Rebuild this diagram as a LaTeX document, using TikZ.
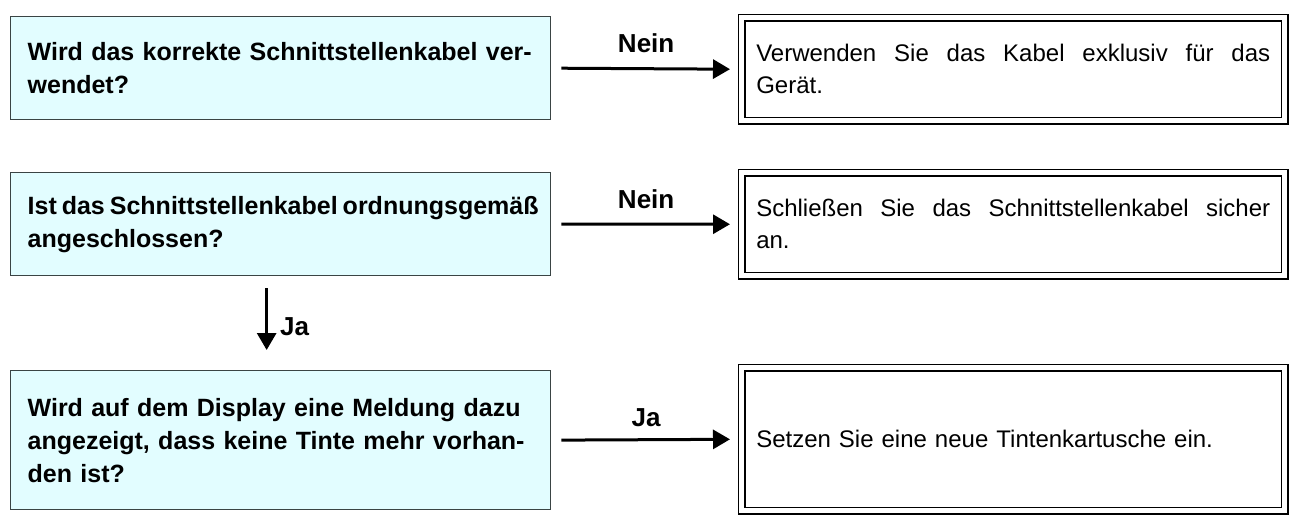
\documentclass[tikz,border=0pt]{standalone}
\usepackage{fontspec}
\setmainfont{Liberation Sans}
\usetikzlibrary{arrows.meta}
\definecolor{qfill}{HTML}{E2FDFF}
\definecolor{qline}{HTML}{3A4444}
\newcommand{\jline}[1]{\hbox to 514pt{#1}}
\newcommand{\tline}[1]{\hbox{\spaceskip=0.2em\relax #1}}
\tikzset{
  qbox/.style={draw=qline, line width=1.3pt, fill=qfill, anchor=north west,
    minimum width=540pt, text width=520pt, align=left, inner sep=0pt,
    font=\fontsize{25}{33}\selectfont\bfseries},
  abox/.style={draw=black, double=white, double distance=5pt, line width=1.5pt,
    anchor=north west, minimum width=543pt, text width=514pt, align=left, inner sep=0pt,
    font=\fontsize{24}{32}\selectfont},
  arr/.style={line width=3pt, -{Triangle[length=17pt,width=19pt]}},
  lbl/.style={font=\fontsize{26}{30}\selectfont\bfseries, inner sep=0pt}
}
\begin{document}
\begin{tikzpicture}[x=1pt,y=-1pt]
\useasboundingbox (0,0) rectangle (1295,515);
\node[qbox, minimum height=103pt] (q1) at (10,16)
  {\hspace*{7pt}Wird das korrekte Schnittstellenkabel ver-\\\hspace*{7pt}wendet?};
\node[qbox, minimum height=103pt] (q2) at (10,172)
  {\hspace*{7pt}\tline{Ist das Schnittstellenkabel ordnungsgemäß}\\\hspace*{7pt}angeschlossen?};
\node[qbox, minimum height=139pt] (q3) at (10,370)
  {\hspace*{7pt}Wird auf dem Display eine Meldung dazu\\\hspace*{7pt}angezeigt, dass keine Tinte mehr vorhan-\\\hspace*{7pt}den ist?};
\node[abox, minimum height=103pt] (a1) at (741,17)
  {\jline{Verwenden\hfill Sie\hfill das\hfill Kabel\hfill exklusiv\hfill für\hfill das}\\Gerät.};
\node[abox, minimum height=103pt] (a2) at (741,172)
  {\jline{Schließen\hfill Sie\hfill das\hfill Schnittstellenkabel\hfill sicher}\\an.};
\node[abox, minimum height=143pt] (a3) at (741,367)
  {Setzen Sie eine neue Tintenkartusche ein.};
\draw[arr, shorten <=10pt, shorten >=11pt] (q1.east) -- (a1.west)
  node[lbl, midway, yshift=25pt] (l1) {Nein};
\draw[arr, shorten <=10pt, shorten >=11pt] (q2.east) -- (a2.west)
  node[lbl, midway, yshift=25pt] (l2) {Nein};
\draw[arr, shorten <=10pt, shorten >=11pt] (q3.east) -- (a3.west)
  node[lbl, midway, yshift=22pt] (l3) {Ja};
\draw[arr, shorten <=12pt, shorten >=20pt] ([xshift=-14pt]q2.south) -- ([xshift=-14pt]q2.south |- q3.north)
  node[lbl, midway, right=12pt, yshift=-4pt] (l4) {Ja};
\end{tikzpicture}
\end{document}
